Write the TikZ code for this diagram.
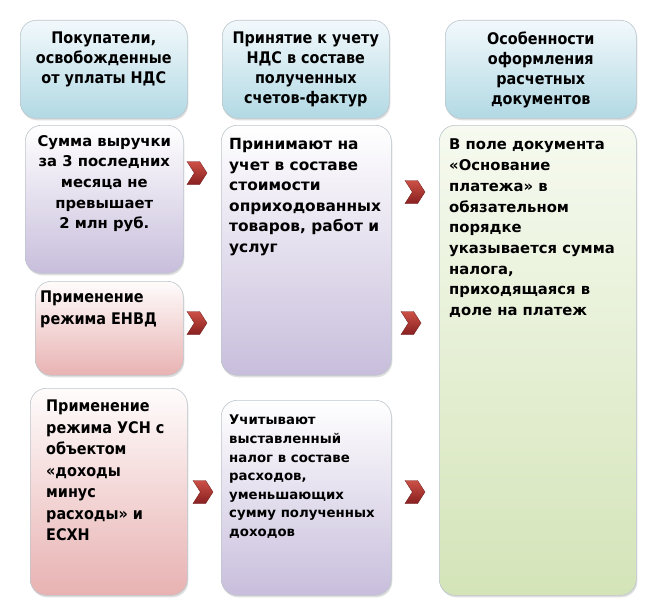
\documentclass[tikz,border=0pt]{standalone}
\usepackage{fontspec}
\setmainfont{DejaVu Sans}
\newfontfamily\narrowfont{DejaVu Sans Condensed}
\usetikzlibrary{shapes.symbols,shadows,positioning}
\definecolor{edge}{RGB}{188, 198, 204}
\definecolor{hdrtop}{RGB}{242, 249, 252}
\definecolor{hdrbot}{RGB}{178, 217, 228}
\definecolor{lavtop}{RGB}{255, 255, 255}
\definecolor{lavbot}{RGB}{200, 190, 220}
\definecolor{pinktop}{RGB}{255, 252, 252}
\definecolor{pinkbot}{RGB}{232, 178, 178}
\definecolor{greentop}{RGB}{246, 250, 240}
\definecolor{greenbot}{RGB}{212, 228, 184}
\definecolor{chevtop}{RGB}{205, 80, 70}
\definecolor{chevbot}{RGB}{135, 32, 32}

\begin{document}
\begin{tikzpicture}[x=1pt, y=-1pt,
  panel/.style={draw=edge, line width=0.6pt, rounded corners=16pt,
                inner sep=0pt, anchor=north west,
                drop shadow={opacity=0.25, shadow xshift=1pt, shadow yshift=-2pt}},
  hdr/.style={panel, top color=hdrtop, bottom color=hdrbot},
  lav/.style={panel, top color=lavtop, bottom color=lavbot},
  pink/.style={panel, top color=pinktop, bottom color=pinkbot},
  green/.style={panel, top color=greentop, bottom color=greenbot},
  hdrtext/.style={inner sep=0pt, anchor=north, align=center,
                  font=\narrowfont\bfseries\fontsize{16}{20}\selectfont},
  celltext/.style={inner sep=0pt, anchor=north west, align=left,
                   font=\bfseries\fontsize{14.8}{20.7}\selectfont},
  narrowtext/.style={celltext, font=\narrowfont\bfseries\fontsize{16}{21.5}\selectfont},
  chev/.style={signal, signal from=west, signal to=east,
               signal pointer angle=115, inner sep=0pt,
               minimum width=20pt, minimum height=23pt,
               top color=chevtop, bottom color=chevbot, draw=chevbot!80!black,
               line width=0.3pt},
  ]

\fill[white] (0,0) rectangle (663,615);
\useasboundingbox (0,0) rectangle (663,615);

% ======================================================================
% TOP: column headers
% ======================================================================
\node[hdr, minimum width=167pt, minimum height=98pt] (hdrA) at (20,20) {};
\node[hdrtext] (hdrAt) at ([yshift=-12pt]hdrA.north)
  {Покупатели,\\освобожденные\\от уплаты НДС};

\node[hdr, minimum width=167pt, minimum height=98pt] (hdrB) at (222,20) {};
\node[hdrtext] (hdrBt) at ([yshift=-12pt]hdrB.north)
  {Принятие к учету\\НДС в составе\\полученных\\счетов-фактур};

\node[hdr, minimum width=191pt, minimum height=98pt] (hdrC) at (445,20) {};
\node[hdrtext] (hdrCt) at ([yshift=-12pt]hdrC.north)
  {Особенности\\оформления\\расчетных\\документов};

% ======================================================================
% LEFT column: buyer groups
% ======================================================================
\node[lav, minimum width=158pt, minimum height=148pt] (sumA) at (25,125) {};
\node[celltext, anchor=north, align=center] (sumAt) at ([yshift=-10pt]sumA.north)
  {Сумма выручки\\за 3 последних\\месяца не\\превышает\\2 млн руб.};

\node[pink, minimum width=148pt, minimum height=94pt] (envdB) at (35,281) {};
\node[narrowtext] (envdBt) at ([xshift=5pt,yshift=-10pt]envdB.north west)
  {Применение\\режима ЕНВД};

\node[pink, minimum width=157pt, minimum height=207pt] (usnC) at (30,388) {};
\node[narrowtext] (usnCt) at ([xshift=16pt,yshift=-12pt]usnC.north west)
  {Применение\\режима УСН с\\объектом\\«доходы\\минус\\расходы» и\\ЕСХН};

% ======================================================================
% MIDDLE column: how VAT is taken into account
% ======================================================================
\node[lav, minimum width=170pt, minimum height=250pt] (accD) at (221,125) {};
\node[celltext, font=\bfseries\fontsize{15.4}{20.6}\selectfont]
  (accDt) at ([xshift=8pt,yshift=-13pt]accD.north west)
  {Принимают на\\учет в составе\\стоимости\\оприходованных\\товаров, работ и\\услуг};

\node[lav, minimum width=170pt, minimum height=195pt] (expE) at (221,400) {};
\node[celltext, font=\bfseries\fontsize{13.3}{18.6}\selectfont]
  (expEt) at ([xshift=8pt,yshift=-15pt]expE.north west)
  {Учитывают\\выставленный\\налог в составе\\расходов,\\уменьшающих\\сумму полученных\\доходов};

% ======================================================================
% RIGHT column: payment documents
% ======================================================================
\node[green, minimum width=197pt, minimum height=470pt] (docF) at (439,125) {};
\node[celltext] (docFt) at ([xshift=10pt,yshift=-14pt]docF.north west)
  {В поле документа\\«Основание\\платежа» в\\обязательном\\порядке\\указывается сумма\\налога,\\приходящаяся в\\доле на платеж};

% ======================================================================
% Chevrons between columns
% ======================================================================
\node[chev] (arA) at (197,173) {};
\node[chev] (arB) at (197,323) {};
\node[chev] (arC) at (203,492) {};
\node[chev] (arD) at (415,192) {};
\node[chev] (arE) at (411,323) {};
\node[chev] (arF) at (415,492) {};

\end{tikzpicture}
\end{document}
